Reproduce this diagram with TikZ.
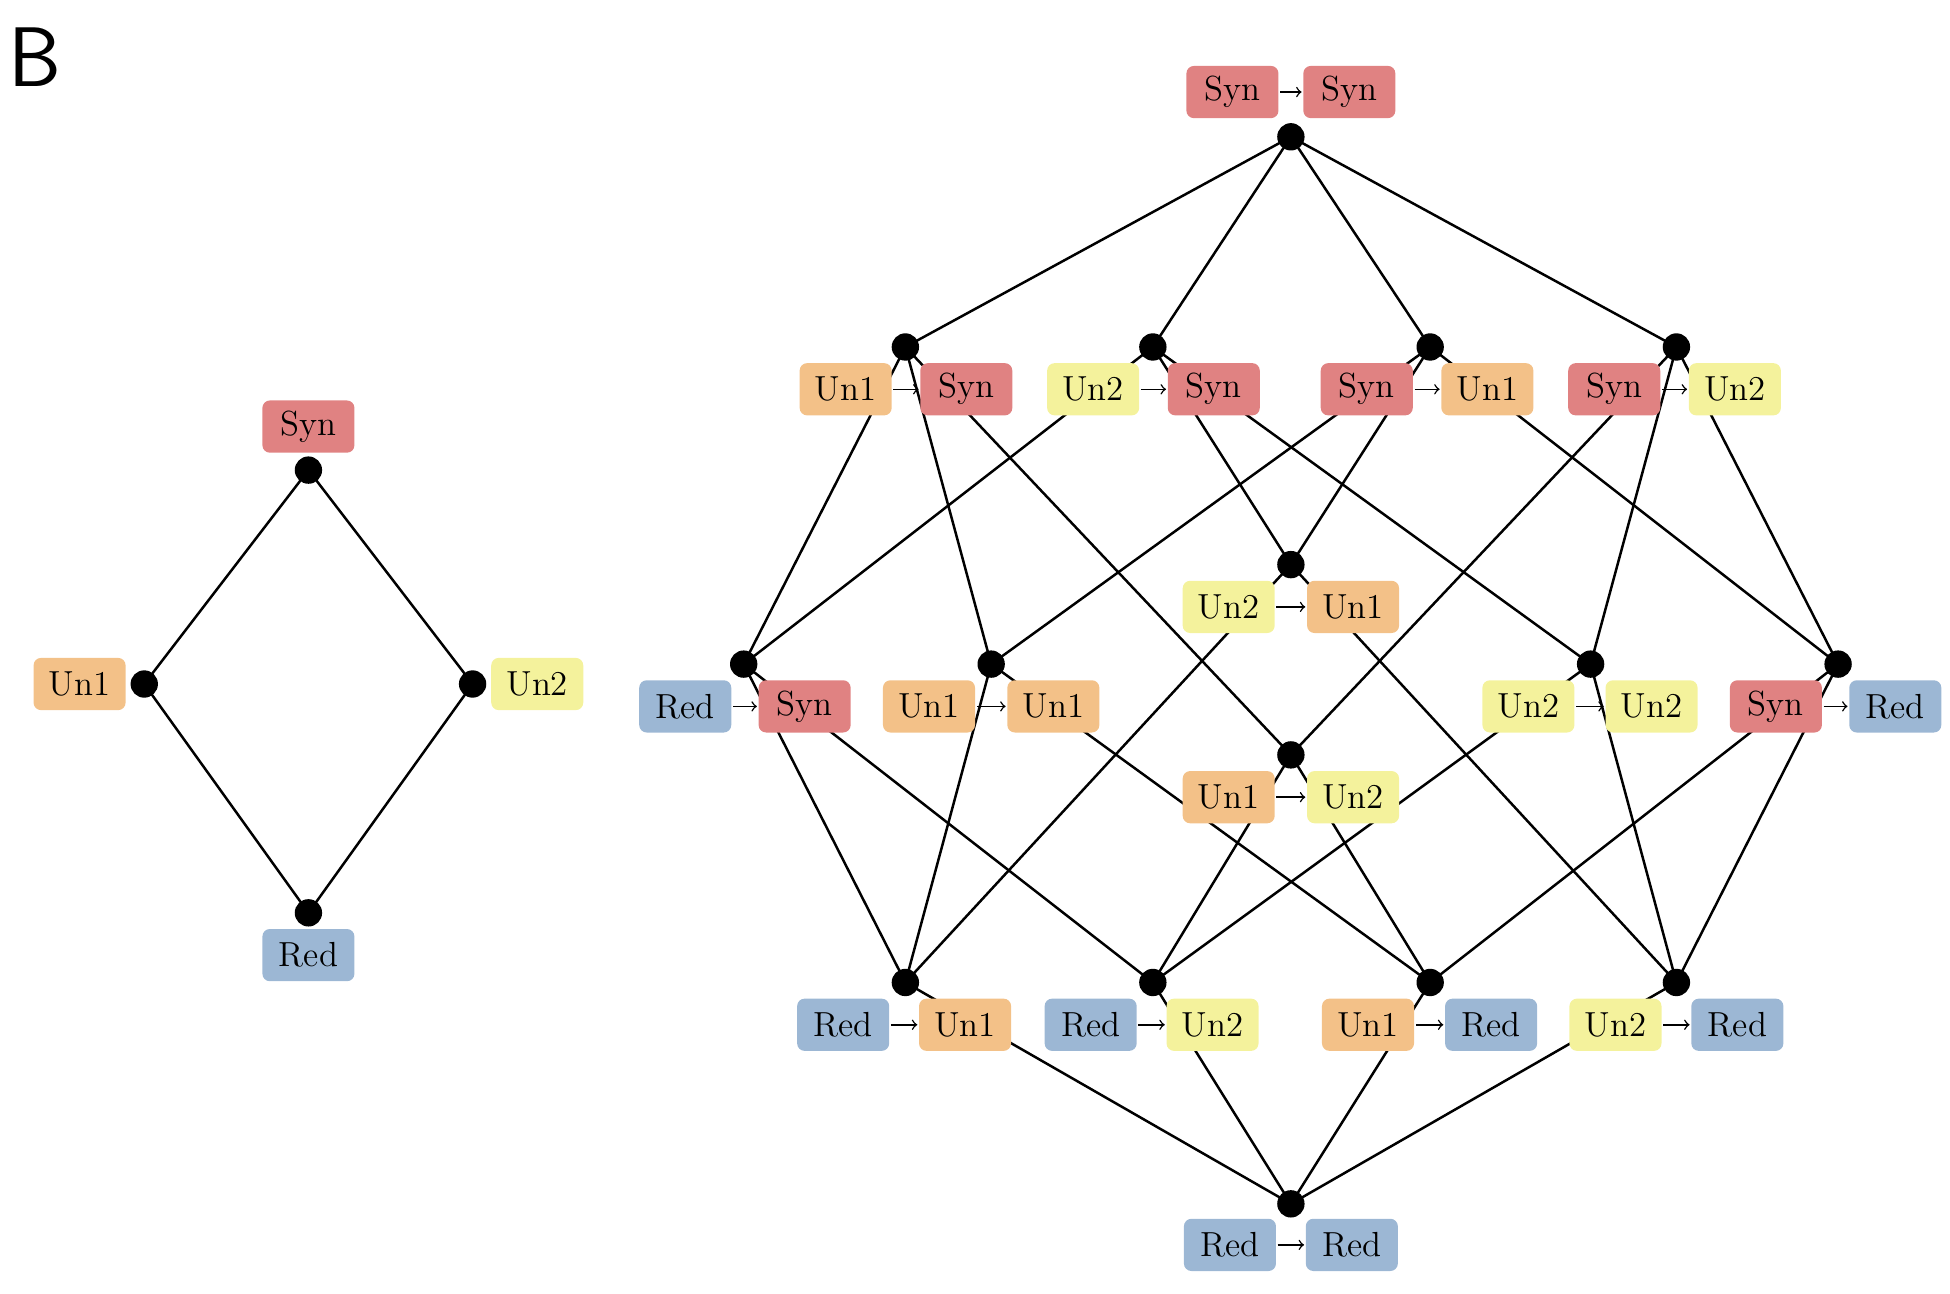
\documentclass[tikz,border=0pt]{standalone}
\usepackage{tikz}
\definecolor{csyn}{RGB}{224, 130, 130}
\definecolor{cunA}{RGB}{243, 193, 136}
\definecolor{cunB}{RGB}{244, 242, 156}
\definecolor{cred}{RGB}{156, 183, 212}
\usetikzlibrary{positioning}

\begin{document}
\begin{tikzpicture}[x=0.5pt, y=-0.5pt,
  dot/.style={circle, fill=black, inner sep=0pt, minimum size=11pt},
  lab/.style={rounded corners=3pt, inner sep=0pt, minimum width=37pt, minimum height=21pt, font=\fontsize{14}{16}\selectfont},
  syn/.style={lab, fill=csyn}, una/.style={lab, fill=cunA},
  unb/.style={lab, fill=cunB}, red/.style={lab, fill=cred},
  edge/.style={line width=1pt, color=black},
  tip/.style={->, line width=0.6pt, shorten >=0.5pt, shorten <=0.5pt}]
\useasboundingbox (0,0) rectangle (1568,1040);
\node (B) at (28,46) {\fontsize{34}{36}\sffamily B};
% left diamond
\coordinate (l1) at (248,378);
\coordinate (l2) at (116,550);
\coordinate (l3) at (380,550);
\coordinate (l4) at (248,734);
\draw [edge] (l1) -- (l2) -- (l4) -- (l3) -- (l1);
\node (ls) [syn] at (248,343) {Syn};
\node (la) [una] at (64,550) {Un1};
\node (lb) [unb] at (432,550) {Un2};
\node (lr) [red] at (248,768) {Red};
% right lattice
\coordinate (t) at (1038,110);
\coordinate (a1) at (728,279);
\coordinate (a2) at (927,279);
\coordinate (a3) at (1150,279);
\coordinate (a4) at (1348,279);
\coordinate (m1) at (598,534);
\coordinate (m2) at (797,534);
\coordinate (m3) at (1038,454);
\coordinate (m4) at (1038,607);
\coordinate (m5) at (1279,534);
\coordinate (m6) at (1478,534);
\coordinate (b1) at (728,790);
\coordinate (b2) at (927,790);
\coordinate (b3) at (1150,790);
\coordinate (b4) at (1348,790);
\coordinate (z) at (1038,968);
\foreach \i in {a1,a2,a3,a4} \draw [edge] (t) -- (\i);
\foreach \i in {b1,b2,b3,b4} \draw [edge] (z) -- (\i);
\foreach \i/\j in {a1/m1,a1/m2,a1/m4,a2/m1,a2/m3,a2/m5,a3/m2,a3/m3,a3/m6,a4/m4,a4/m5,a4/m6,
  m1/b1,m2/b1,m3/b1,m1/b2,m4/b2,m5/b2,m2/b3,m4/b3,m6/b3,m3/b4,m5/b4,m6/b4}
  \draw [edge] (\i) -- (\j);
% labels
\node (tl) [syn] at (991,74) {Syn};  \node (tr) [syn] at (1085,74) {Syn};
\node (a1l) [una] at (680,313) {Un1}; \node (a1r) [syn] at (777,313) {Syn};
\node (a2l) [unb] at (879,313) {Un2}; \node (a2r) [syn] at (976,313) {Syn};
\node (a3l) [syn] at (1099,313) {Syn}; \node (a3r) [una] at (1196,313) {Un1};
\node (a4l) [syn] at (1298,313) {Syn}; \node (a4r) [unb] at (1395,313) {Un2};
\node (m1l) [red] at (551,568) {Red}; \node (m1r) [syn] at (647,568) {Syn};
\node (m2l) [una] at (747,568) {Un1}; \node (m2r) [una] at (847,568) {Un1};
\node (m3l) [unb] at (988,488) {Un2}; \node (m3r) [una] at (1088,488) {Un1};
\node (m4l) [una] at (988,641) {Un1}; \node (m4r) [unb] at (1088,641) {Un2};
\node (m5l) [unb] at (1229,568) {Un2}; \node (m5r) [unb] at (1328,568) {Un2};
\node (m6l) [syn] at (1428,568) {Syn}; \node (m6r) [red] at (1524,568) {Red};
\node (b1l) [red] at (678,824) {Red}; \node (b1r) [una] at (776,824) {Un1};
\node (b2l) [red] at (877,824) {Red}; \node (b2r) [unb] at (975,824) {Un2};
\node (b3l) [una] at (1100,824) {Un1}; \node (b3r) [red] at (1199,824) {Red};
\node (b4l) [unb] at (1299,824) {Un2}; \node (b4r) [red] at (1397,824) {Red};
\node (zl) [red] at (989,1001) {Red}; \node (zr) [red] at (1087,1001) {Red};
\foreach \i in {t,a1,a2,a3,a4,m1,m2,m3,m4,m5,m6,b1,b2,b3,b4,z}
  \draw [tip] (\i l.east) -- (\i r.west);
% dots on top
\foreach \i in {l1,l2,l3,l4,t,a1,a2,a3,a4,m1,m2,m3,m4,m5,m6,b1,b2,b3,b4,z}
  \node [dot] at (\i) {};
\end{tikzpicture}
\end{document}
